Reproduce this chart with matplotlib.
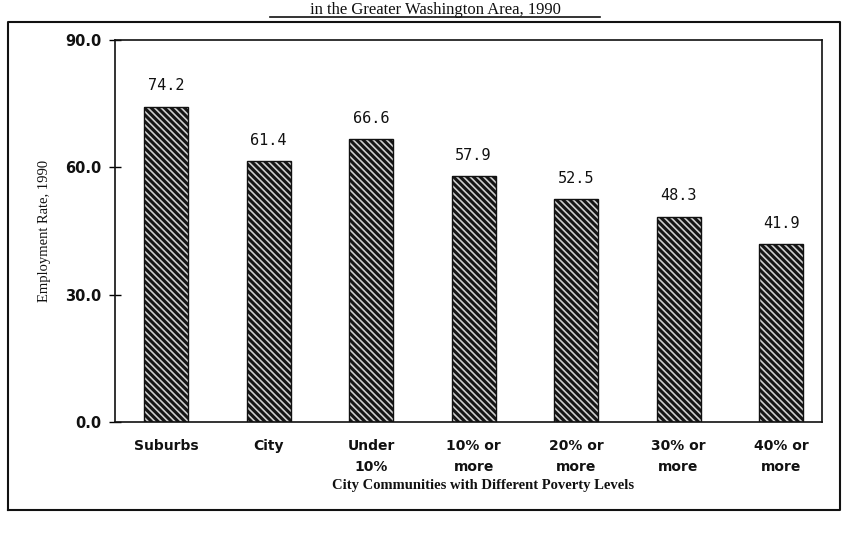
import matplotlib
matplotlib.use("Agg")
import matplotlib.pyplot as plt
from matplotlib.lines import Line2D
import numpy as np

categories = ["Suburbs", "City", "Under\n10%", "10% or\nmore", "20% or\nmore", "30% or\nmore", "40% or\nmore"]
values = [74.2, 61.4, 66.6, 57.9, 52.5, 48.3, 41.9]
value_labels = ["74.2", "61.4", "66.6", "57.9", "52.5", "48.3", "41.9"]
yticks = [0, 30, 60, 90]
ytick_labels = ["0.0", "30.0", "60.0", "90.0"]

plt.rcParams['hatch.linewidth'] = 1.2

fig = plt.figure(figsize=(8.43, 5.36), dpi=100)
ax = fig.add_axes([115/843, 1-422/536, 707/843, (422-40)/536])

x = np.arange(len(categories))
ax.bar(x, values, width=0.43, color='#151515', edgecolor='#cfcfcf',
       hatch='\\\\\\\\\\', linewidth=0)
ax.bar(x, values, width=0.43, fill=False, edgecolor='#111111', linewidth=1.0)

for xi, v, lab in zip(x, values, value_labels):
    ax.text(xi, v + 3.2, lab, ha='center', va='bottom', fontsize=11,
            family='DejaVu Sans Mono', color='#111111')

ax.set_xlim(-0.5, 6.4)
ax.set_ylim(0, 90)
ax.set_yticks(yticks)
ax.set_yticklabels(ytick_labels, fontsize=10.5, fontweight='bold', family='DejaVu Sans', color='#111111')
ax.set_xticks(x)
ax.set_xticklabels(categories, fontsize=10, fontweight='bold', family='DejaVu Sans',
                   color='#111111', linespacing=1.7, va='top')
ax.tick_params(axis='x', length=0, pad=12)
ax.tick_params(axis='y', direction='inout', length=8, width=1.0, pad=6)
for s in ax.spines.values():
    s.set_linewidth(1.2)
    s.set_color('#111111')

ax.set_xlabel("City Communities with Different Poverty Levels", family='Liberation Serif',
              fontsize=10.5, fontweight='bold', labelpad=3, color='#111111')
ax.xaxis.label.set_position((0.52, 0))
ax.set_ylabel("Employment Rate, 1990", family='Liberation Serif', fontsize=10.5,
              color='#111111', labelpad=10)

# Title (at the very top of the page)
fig.text(435/843, 1-14/536, "in the Greater Washington Area, 1990", ha='center', va='baseline',
         family='Liberation Serif', fontsize=12, color='#111111')
fig.add_artist(Line2D([270/843, 600/843], [1-17/536, 1-17/536], color='#111111', linewidth=1.2))

# Outer frame
fx0, fx1 = 8/843, 840/843
fy0, fy1 = 1-510/536, 1-22/536
fig.add_artist(Line2D([fx0, fx1, fx1, fx0, fx0], [fy0, fy0, fy1, fy1, fy0],
                      color='#111111', linewidth=1.5))

fig.savefig("out.png", dpi=100)
